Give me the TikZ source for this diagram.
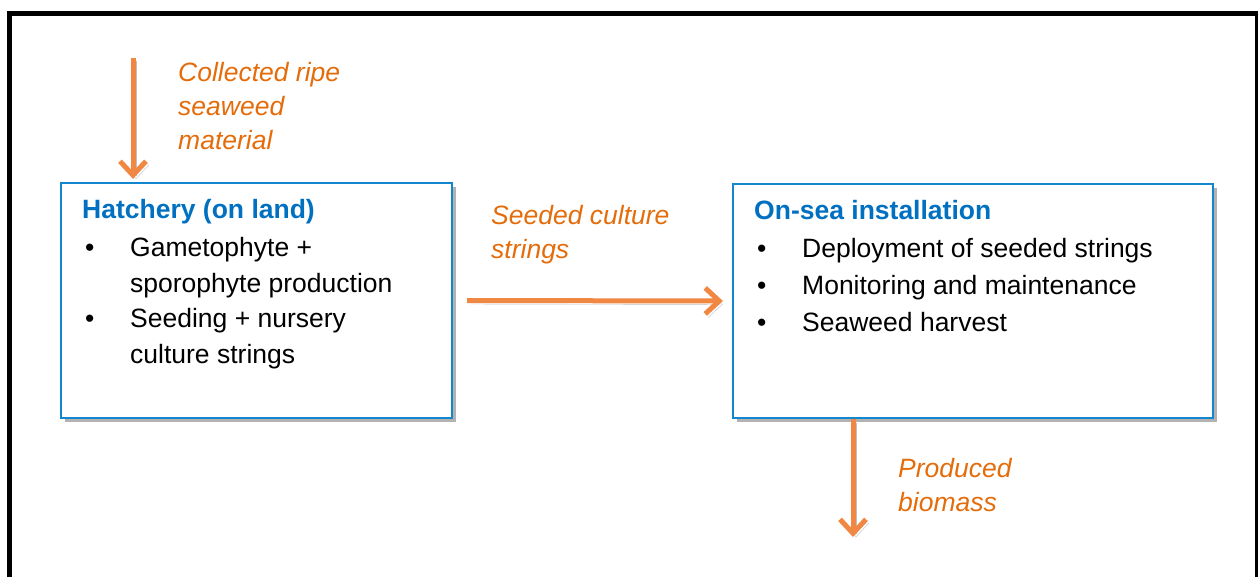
\documentclass[tikz,border=0pt]{standalone}
\usepackage{fontspec}
\setmainfont{Liberation Sans}
\usepackage{tikz}
\usetikzlibrary{arrows.meta,shadows,positioning,calc}

\definecolor{boxline}{RGB}{18,134,206}
\definecolor{titleblue}{RGB}{0,112,192}
\definecolor{arrowor}{RGB}{240,135,66}
\definecolor{textor}{RGB}{228,108,10}

\newcommand{\bul}{\makebox[45pt][l]{•}}
\newcommand{\ind}{\hspace*{45pt}}

\tikzset{
  stagebox/.style={draw=boxline, line width=2.2pt, fill=white, inner sep=0pt,
    drop shadow={shadow xshift=3.5pt, shadow yshift=-4pt, opacity=0.3, fill=black}},
  titletext/.style={anchor=base west, inner sep=0pt, text=titleblue,
    font=\fontsize{26.5}{36}\selectfont\bfseries},
  itemtext/.style={anchor=base west, inner sep=0pt, align=left,
    font=\fontsize{26.5}{36}\selectfont},
  flowtext/.style={anchor=base west, inner sep=0pt, align=left, text=textor,
    font=\fontsize{26.5}{34}\selectfont\itshape},
  flow/.style={draw=arrowor, line width=5pt,
    -{Straight Barb[length=14pt,width=26pt,line width=5pt]},
    preaction={draw=black, opacity=0.25, transform canvas={shift={(3pt,-3.5pt)}}}}
}

\begin{document}
\begin{tikzpicture}[x=1pt,y=-1pt]
\useasboundingbox (0,0) rectangle (1258,577);
\clip (0,0) rectangle (1258,577);
% outer frame
\draw[line width=5pt] (9.5,620) -- (9.5,13.5) -- (1257.5,13.5) -- (1257.5,620);

% the two stages
\node[stagebox, minimum width=391pt, minimum height=235pt] (hatch) at (256.5,300.5) {};
\node[stagebox, minimum width=480pt, minimum height=234pt] (onsea) at (973,301) {};

% multi-line nodes sit on their last baseline
\node[titletext] (hatchtitle) at (82,219) {Hatchery (on land)};
\node[itemtext, font=\fontsize{26.5}{35.7}\selectfont] (hatchlist) at (85,363.6) {\bul Gametophyte +\\ \ind sporophyte production\\ \bul Seeding + nursery\\ \ind culture strings};

\node[titletext] (onseatitle) at (754,220) {On-sea installation};
\node[itemtext, font=\fontsize{26.5}{37}\selectfont] (onsealist) at (757,331) {\bul Deployment of seeded strings\\ \bul Monitoring and maintenance\\ \bul Seaweed harvest};

% flows
\coordinate (src) at (133,58);
\coordinate (out) at (853,537);
\draw[flow, shorten >=3pt] (src) -- (src |- hatch.north);
\draw[flow, shorten <=14pt, shorten >=9pt] (hatch.east) -- (onsea.west);
\draw[flow] (out |- onsea.south) -- (out);

\node[flowtext] (srctext) at (178,149.5) {Collected ripe\\seaweed\\material};
\node[flowtext] (seedtext) at (491,259) {Seeded culture\\strings};
\node[flowtext] (outtext) at (898,511.5) {Produced\\biomass};
\end{tikzpicture}
\end{document}
